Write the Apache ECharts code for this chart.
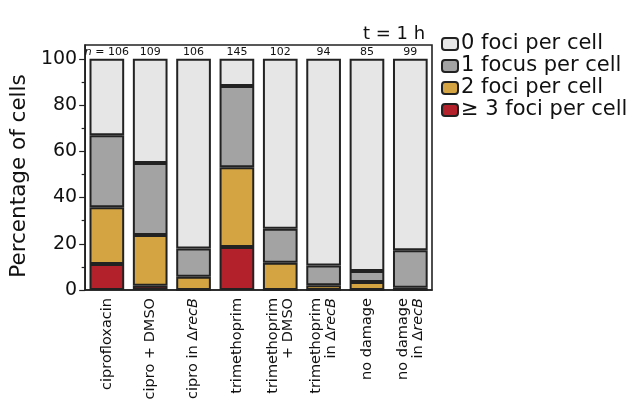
<!DOCTYPE html>
<html><head><meta charset="utf-8">
<script src="https://cdn.jsdelivr.net/npm/echarts@6/dist/echarts.min.js"></script>
<style>html,body{margin:0;padding:0;background:#fff}#c{width:632px;height:413px}</style>
</head><body><div id="c"></div>
<script>
const categories = ['ciprofloxacin', 'cipro + DMSO', 'cipro in ΔrecB', 'trimethoprim',
  'trimethoprim\n+ DMSO', 'trimethoprim\nin ΔrecB', 'no damage', 'no damage\nin ΔrecB'];
const nCells = [106, 109, 106, 145, 102, 94, 85, 99];
const pct3 = [11.3, 1.8, 0, 18.6, 0, 0, 0, 0];
const pct2 = [24.5, 22.0, 5.7, 34.5, 11.8, 2.1, 3.5, 1.0];
const pct1 = [31.1, 31.2, 12.3, 35.2, 14.7, 8.5, 4.7, 16.2];
const pct0 = [33.1, 45.0, 82.0, 11.7, 73.5, 89.4, 91.8, 82.8];
const yTicks = [0, 20, 40, 60, 80, 100];
const yMinorTicks = [10, 30, 50, 70, 90];
const seriesNames = ['0 foci per cell', '1 focus per cell', '2 foci per cell', '≥ 3 foci per cell'];

const FONT = 'DejaVu Sans';
const border = '#222';
function bar(name, data, color, extra) {
  return Object.assign({
    name, type: 'bar', stack: 'all', data, barWidth: '80%',
    itemStyle: { color, borderColor: border, borderWidth: 2 }
  }, extra || {});
}
const chart = echarts.init(document.getElementById('c'));
chart.setOption({
  animation: false,
  textStyle: { fontFamily: FONT },
  title: { text: 't = 1 h', left: 358, top: 20, textStyle: { fontFamily: FONT, fontSize: 18, fontWeight: 'normal', color: '#111' } },
  legend: {
    data: seriesNames, orient: 'vertical', left: 436, top: 28,
    itemWidth: 16, itemHeight: 12, itemGap: 0,
    textStyle: { fontFamily: FONT, fontSize: 21, lineHeight: 22, color: '#111', padding: [0, 0, 0, -2] }
  },
  grid: { left: 81, right: 200, top: 45, bottom: 123, show: true, borderColor: '#222', borderWidth: 1.6, backgroundColor: 'transparent' },
  xAxis: {
    type: 'category', data: categories,
    axisLine: { show: true, lineStyle: { color: '#222', width: 1.6 } },
    axisTick: { show: false },
    axisLabel: {
      rotate: 90, interval: 0, margin: 8, fontSize: 14.5, fontFamily: FONT, color: '#111', lineHeight: 15,
      formatter: v => v.replace('recB', '{i|recB}'),
      rich: { i: { fontStyle: 'italic', fontSize: 14.5, fontFamily: FONT, color: '#111' } }
    }
  },
  yAxis: [{
    type: 'value', min: 0, max: 106,
    name: 'Percentage of cells', nameLocation: 'middle', nameGap: 38,
    nameTextStyle: { fontFamily: FONT, fontSize: 21.5, color: '#111', padding: [0, 17, 0, 0] },
    axisLine: { show: true, lineStyle: { color: '#222', width: 1.6 } },
    axisTick: { show: true, inside: false, length: 6, customValues: yTicks, lineStyle: { color: '#222', width: 1.2 } },
    axisLabel: { customValues: yTicks, margin: 8, fontSize: 19, fontFamily: FONT, color: '#111' },
    splitLine: { show: false }
  }, {
    type: 'value', min: 0, max: 106, position: 'left',
    axisLine: { show: false },
    axisTick: { show: true, inside: false, length: 3.5, customValues: yMinorTicks, lineStyle: { color: '#222', width: 1.2 } },
    axisLabel: { show: false },
    splitLine: { show: false }
  }],
  series: [
    bar(seriesNames[3], pct3, '#b3222a'),
    bar(seriesNames[2], pct2, '#d4a443'),
    bar(seriesNames[1], pct1, '#a3a3a3'),
    bar(seriesNames[0], pct0, '#e6e6e6', {
      label: {
        show: true, position: 'top', distance: 1, fontSize: 11, fontFamily: FONT, color: '#111',
        formatter: p => (p.dataIndex === 0 ? '{i|n} = ' : '') + nCells[p.dataIndex],
        rich: { i: { fontStyle: 'italic', fontSize: 11, fontFamily: FONT, color: '#111' } }
      }
    })
  ]
});
</script></body></html>
